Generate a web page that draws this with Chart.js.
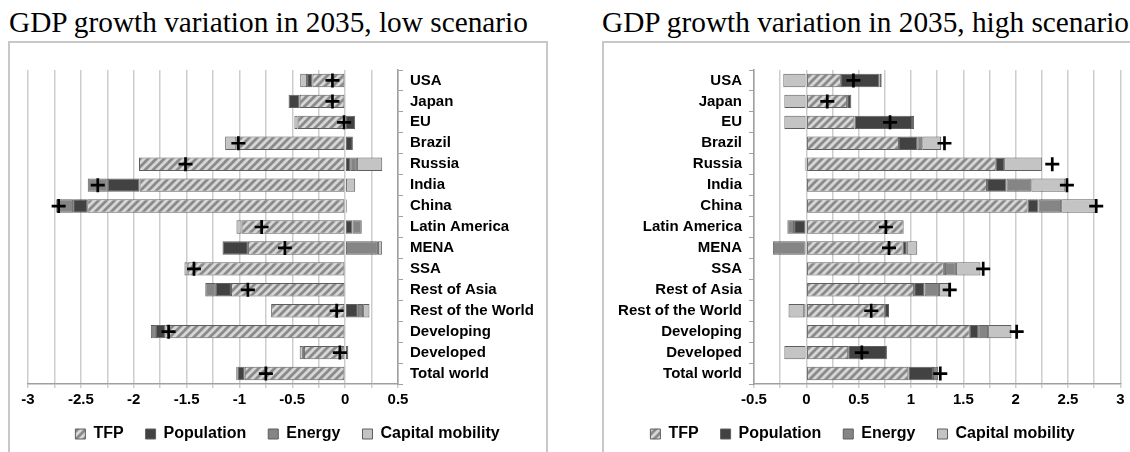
<!DOCTYPE html>
<html>
<head>
<meta charset="utf-8">
<script src="https://cdn.jsdelivr.net/npm/chart.js@4/dist/chart.umd.min.js"></script>
<style>
  body { margin: 0; background: #fff; width: 1130px; height: 452px; overflow: hidden; position: relative; }
  .title { position: absolute; top: 6px; font-family: "Liberation Serif", "Times New Roman", serif; font-size: 29.3px; color: #000; white-space: nowrap; }
  .frame { position: absolute; top: 41px; height: 430px; border: 2px solid #c8c8c8; box-sizing: border-box; }
  canvas { position: absolute; }
</style>
</head>
<body>
<div class="title" style="left:9px">GDP growth variation in 2035, low scenario</div>
<div class="title" style="left:602px">GDP growth variation in 2035, high scenario</div>
<div class="frame" style="left:8px; width:540px"></div>
<div class="frame" style="left:602px; width:540px"></div>
<canvas id="low-chart" width="538" height="410" style="left:9px; top:42px"></canvas>
<canvas id="high-chart" width="527" height="410" style="left:603px; top:42px"></canvas>
<script>
const regions = ["USA", "Japan", "EU", "Brazil", "Russia", "India", "China", "Latin America",
  "MENA", "SSA", "Rest of Asia", "Rest of the World", "Developing", "Developed", "Total world"];

// low scenario
const lowTFP = [-0.31, -0.43, -0.45, -1.03, -1.95, -1.945, -2.44, -0.98, -0.92, -1.49, -1.08, -0.70, -1.70, -0.39, -0.95];
const lowPopulation = [-0.05, -0.105, 0.095, 0.073, 0.048, -0.30, -0.133, 0.07, -0.24, 0, -0.143, 0.12, -0.09, 0.03, -0.07];
const lowEnergy = [0, 0, 0, 0, 0.063, -0.19, -0.16, 0.087, 0.31, 0, -0.10, 0.05, -0.048, -0.01, -0.01];
const lowCapital = [-0.065, 0, -0.03, -0.105, 0.24, 0.095, 0.015, -0.048, 0.04, -0.03, 0, 0.06, 0, -0.03, 0];
const lowTotal = [-0.12, -0.12, -0.01, -1.01, -1.51, -2.34, -2.71, -0.79, -0.57, -1.43, -0.92, -0.08, -1.67, -0.05, -0.75];

// high scenario
const highTFP = [0.33, 0.39, 0.46, 0.885, 1.81, 1.727, 2.114, 0.93, 0.92, 1.314, 1.03, 0.75, 1.562, 0.40, 0.975];
const highPopulation = [0.37, 0.04, 0.55, 0.175, 0.08, 0.185, 0.105, -0.117, 0.04, 0.01, 0.10, 0.04, 0.08, 0.37, 0.235];
const highEnergy = [0.02, 0, 0.02, 0.048, -0.015, 0.238, 0.216, -0.064, -0.32, 0.105, 0.137, -0.02, 0.095, 0, 0.05];
const highCapital = [-0.22, -0.21, -0.21, 0.18, 0.36, 0.324, 0.33, 0, 0.10, 0.235, 0.095, -0.15, 0.223, -0.21, 0];
const highTotal = [0.45, 0.20, 0.80, 1.32, 2.35, 2.49, 2.77, 0.76, 0.79, 1.69, 1.37, 0.62, 2.01, 0.53, 1.28];

const FONT = "Arial, 'Liberation Sans', sans-serif";

function hatchPattern() {
  const c = document.createElement("canvas");
  c.width = 8;
  c.height = 8;
  const g = c.getContext("2d");
  g.fillStyle = "#d6d6d6";
  g.fillRect(0, 0, 8, 8);
  g.strokeStyle = "#8a8a8a";
  g.lineWidth = 2.8;
  g.beginPath();
  g.moveTo(-1, 9); g.lineTo(9, -1);
  g.moveTo(-1, 1); g.lineTo(1, -1);
  g.moveTo(7, 9); g.lineTo(9, 7);
  g.stroke();
  return g.createPattern(c, "repeat");
}

function makeChart(id, tfp, pop, energy, capital, total, opts) {
  const hatch = hatchPattern();
  const bar = (label, data, color) => ({
    label: label,
    data: data,
    backgroundColor: color,
    borderColor: "#5e5e5e",
    borderWidth: 1,
    borderSkipped: false,
    categoryPercentage: 1,
    barPercentage: 0.64,
    order: 1,
  });

  return new Chart(document.getElementById(id), {
    type: "bar",
    data: {
      labels: regions,
      datasets: [
        bar("TFP", tfp, hatch),
        bar("Population", pop, "#424242"),
        bar("Energy", energy, "#858585"),
        bar("Capital mobility", capital, "#c4c4c4"),
        {
          type: "line",
          label: "Total",
          data: total,
          indexAxis: "y",
          stack: "total",
          showLine: false,
          pointStyle: "cross",
          pointRadius: 7,
          pointHoverRadius: 7,
          borderColor: "#000",
          backgroundColor: "#000",
          pointBorderWidth: 2.7,
          order: 0,
        },
      ],
    },
    options: {
      indexAxis: "y",
      responsive: false,
      animation: false,
      events: [],
      layout: { padding: opts.padding },
      scales: {
        x: {
          stacked: true,
          min: opts.min,
          max: opts.max,
          ticks: {
            stepSize: 0.25,
            autoSkip: false,
            maxRotation: 0,
            color: "#000",
            padding: 3,
            font: { family: FONT, size: 15, weight: "bold" },
            callback: (v) => (Math.abs(v * 2 - Math.round(v * 2)) < 1e-6 ? String(v) : ""),
          },
          grid: { color: "#cdcdcd", lineWidth: 1.5, tickLength: 4 },
          border: { color: "#a0a0a0", width: 1.5 },
          afterFit: (scale) => { scale.height = 20; },
        },
        y: {
          stacked: true,
          position: opts.yPos,
          ticks: {
            color: "#000",
            padding: 7,
            autoSkip: false,
            font: { family: FONT, size: 15, weight: "bold" },
          },
          grid: { offset: true, drawOnChartArea: false, tickLength: 5, color: "#a0a0a0" },
          border: { color: "#a0a0a0", width: 1.5 },
          afterFit: (scale) => { scale.width = opts.yWidth; },
        },
      },
      plugins: {
        tooltip: { enabled: false },
        legend: {
          position: "bottom",
          labels: {
            boxWidth: 10,
            boxHeight: 10,
            padding: 22,
            color: "#000",
            font: { family: FONT, size: 16, weight: "bold" },
            filter: (item) => item.text !== "Total",
          },
        },
      },
    },
  });
}

makeChart("low-chart", lowTFP, lowPopulation, lowEnergy, lowCapital, lowTotal, {
  min: -3, max: 0.5, yPos: "right", yWidth: 149,
  padding: { left: 19, right: 0, top: 28, bottom: 0 },
});
makeChart("high-chart", highTFP, highPopulation, highEnergy, highCapital, highTotal, {
  min: -0.5, max: 3, yPos: "left", yWidth: 151,
  padding: { left: 0, right: 8, top: 28, bottom: 0 },
});
</script>
</body>
</html>
